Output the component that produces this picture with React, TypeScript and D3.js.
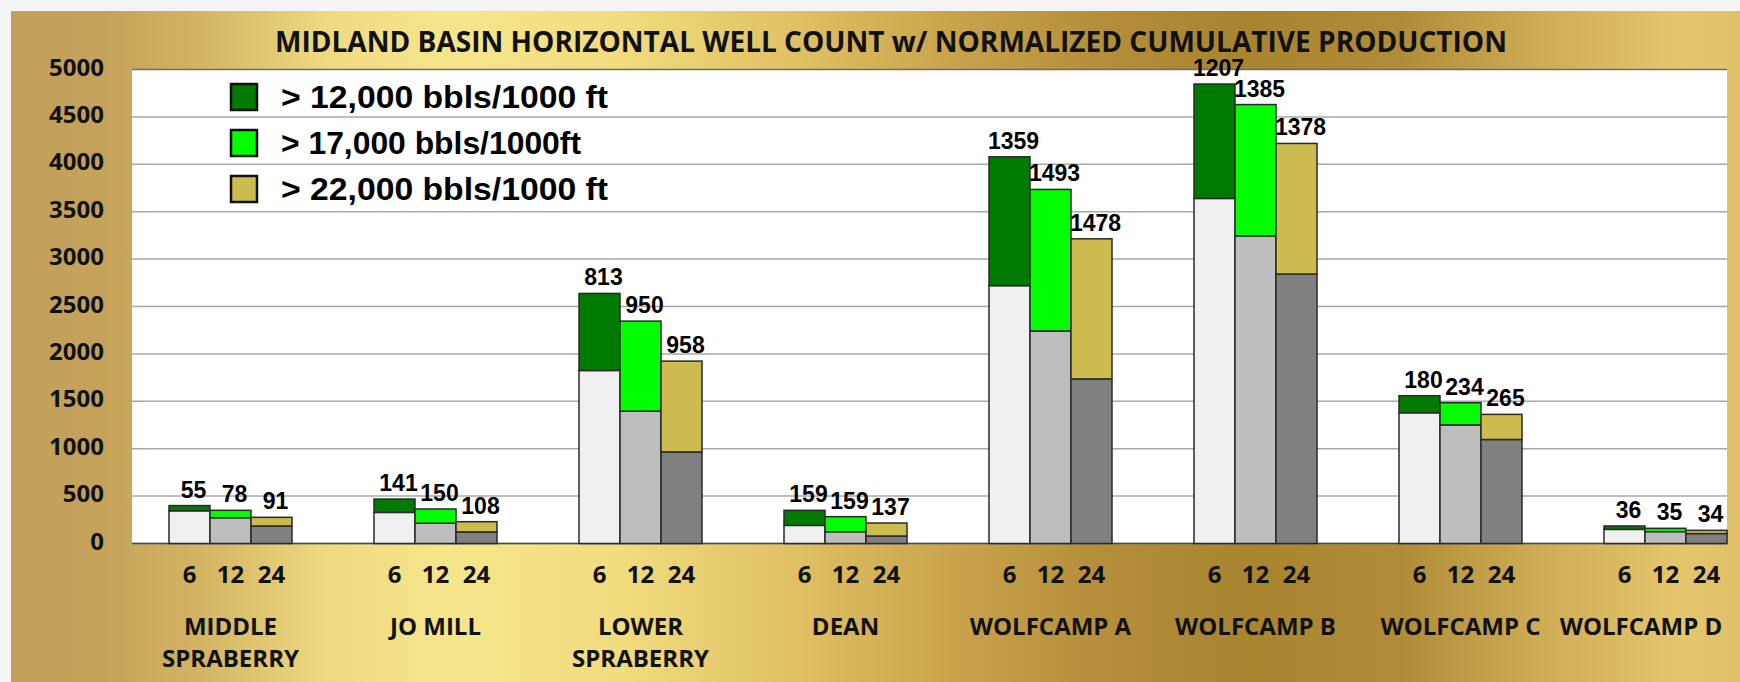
import React from "react";
import * as d3 from "d3";

const categories = ["MIDDLE SPRABERRY", "JO MILL", "LOWER SPRABERRY", "DEAN", "WOLFCAMP A", "WOLFCAMP B", "WOLFCAMP C", "WOLFCAMP D"];
const categoryLines = [["MIDDLE", "SPRABERRY"], ["JO MILL"], ["LOWER", "SPRABERRY"], ["DEAN"], ["WOLFCAMP A"], ["WOLFCAMP B"], ["WOLFCAMP C"], ["WOLFCAMP D"]];
const periods = ["6", "12", "24"];

// gray base portion of each bar (total wells minus highlighted wells)
const base6 = [345, 328, 1825, 191, 2720, 3640, 1379, 149];
const base12 = [272, 214, 1396, 124, 2242, 3245, 1251, 125];
const base24 = [185, 122, 966, 79, 1736, 2842, 1097, 105];
// highlighted wells (labelled values)
const top6 = [55, 141, 813, 159, 1359, 1207, 180, 36];
const top12 = [78, 150, 950, 159, 1493, 1385, 234, 35];
const top24 = [91, 108, 958, 137, 1478, 1378, 265, 34];

const yTicks = [0, 500, 1000, 1500, 2000, 2500, 3000, 3500, 4000, 4500, 5000];
const legendLabels = ["> 12,000 bbls/1000 ft", "> 17,000 bbls/1000ft", "> 22,000 bbls/1000 ft"];

const baseColors = ["#F0F0F0", "#BEBEBE", "#808080"];
const topColors = ["#007A00", "#00FF00", "#CCBC50"];

const W = 1740, H = 682;
const plotL = 132, plotR = 1727, plotT = 69.5, plotB = 543.5;

export default function App() {
  const x0 = d3.scaleBand<string>().domain(categories).range([169, 1727]).paddingInner(0.4).paddingOuter(0);
  const x1 = d3.scaleBand<string>().domain(periods).range([0, x0.bandwidth()]).padding(0);
  const y = d3.scaleLinear().domain([0, 5000]).range([plotB, plotT]);
  const bases = [base6, base12, base24];
  const tops = [top6, top12, top24];

  const gradStops: [number, string][] = [
    [0, "#C1A05B"], [100, "#C4A25A"], [200, "#D3B462"], [330, "#EFDA82"], [450, "#F6E68B"],
    [620, "#F1DC7E"], [800, "#DFC062"], [950, "#C9A44C"], [1100, "#B48E3A"], [1250, "#A8842F"],
    [1400, "#B08C38"], [1560, "#D2B058"], [1680, "#E4C66C"], [1740, "#E0C068"],
  ];

  const calibri = "'Open Sans', 'DejaVu Sans', sans-serif";
  const arial = "'Liberation Sans', Arial, sans-serif";
  // keep category labels inside the picture's right edge
  const catX = (c: string) => Math.min(x0(c)! + x0.bandwidth() / 2, W - 18 - 81);

  return (
    <div style={{ position: "absolute", left: 0, top: 0 }}>
      <svg width={W} height={H} style={{ display: "block" }}>
        <defs>
          <linearGradient id="gold" gradientUnits="userSpaceOnUse" x1={0} y1={0} x2={W} y2={0}>
            {gradStops.map(([p, c], i) => (
              <stop key={i} offset={p / W} stopColor={c} />
            ))}
          </linearGradient>
        </defs>
        <rect x={0} y={0} width={W} height={H} fill="#F4F4F4" />
        <rect x={11} y={11} width={W - 11} height={H - 11} fill="url(#gold)" />

        {/* title */}
        <text x={275} y={52} fontFamily={calibri} fontWeight={700} fontSize={28} fill="#111" textLength={1232} lengthAdjust="spacingAndGlyphs">
          MIDLAND BASIN HORIZONTAL WELL COUNT w/ NORMALIZED CUMULATIVE PRODUCTION
        </text>

        {/* plot area */}
        <rect x={plotL} y={plotT} width={plotR - plotL} height={plotB - plotT} fill="#FFFFFF" />
        {yTicks.map((t) => (
          <line key={t} x1={plotL} x2={plotR} y1={y(t)} y2={y(t)} stroke={t === 5000 ? "#6E6E6E" : "#A8A8A8"} strokeWidth={1.5} />
        ))}
        <line x1={plotL} x2={plotR} y1={plotB} y2={plotB} stroke="#4A4A4A" strokeWidth={1.5} />

        {/* y tick labels */}
        {yTicks.map((t) => (
          <text key={t} x={104} y={y(t) + 6} textAnchor="end" fontFamily={calibri} fontWeight={700} fontSize={24} fill="#111">
            {t}
          </text>
        ))}

        {/* bars */}
        {categories.map((c, ci) => (
          <g key={c} transform={`translate(${x0(c)},0)`}>
            {periods.map((p, pi) => {
              const b = bases[pi][ci];
              const t = tops[pi][ci];
              const bx = x1(p)!;
              const bw = x1.bandwidth();
              return (
                <g key={p}>
                  <rect x={bx} y={y(b)} width={bw} height={y(0) - y(b)} fill={baseColors[pi]} stroke="#2A2A2A" strokeWidth={1.5} />
                  <rect x={bx} y={y(b + t)} width={bw} height={y(b) - y(b + t)} fill={topColors[pi]} stroke="#2A2A2A" strokeWidth={1.5} />
                </g>
              );
            })}
          </g>
        ))}

        {/* data labels */}
        {categories.map((c, ci) =>
          periods.map((p, pi) => {
            const total = bases[pi][ci] + tops[pi][ci];
            return (
              <text key={c + p} x={x0(c)! + x1(p)! + x1.bandwidth() / 2 + 4} y={y(total) - 8} textAnchor="middle" fontFamily={arial} fontWeight={700} fontSize={23} fill="#000">
                {tops[pi][ci]}
              </text>
            );
          })
        )}

        {/* period labels */}
        {categories.map((c) =>
          periods.map((p) => (
            <text key={c + "l" + p} x={x0(c)! + x1(p)! + x1.bandwidth() / 2} y={583} textAnchor="middle" fontFamily={calibri} fontWeight={700} fontSize={24} fill="#111">
              {p}
            </text>
          ))
        )}

        {/* category labels */}
        {categories.map((c, ci) => (
          <text key={c + "cat"} x={catX(c)} y={635} textAnchor="middle" fontFamily={calibri} fontWeight={700} fontSize={24} fill="#111">
            {categoryLines[ci].map((ln, li) => (
              <tspan key={li} x={catX(c)} dy={li === 0 ? 0 : 32}>
                {ln}
              </tspan>
            ))}
          </text>
        ))}

        {/* legend */}
        {legendLabels.map((l, i) => (
          <g key={l}>
            <rect x={231} y={84 + i * 46} width={26} height={26} fill={topColors[i]} stroke="#111" strokeWidth={2.5} />
            <text x={281} y={108 + i * 46} fontFamily={arial} fontWeight={700} fontSize={32} fill="#000" textLength={i === 1 ? 300 : 327} lengthAdjust="spacingAndGlyphs">
              {l}
            </text>
          </g>
        ))}
      </svg>
    </div>
  );
}
